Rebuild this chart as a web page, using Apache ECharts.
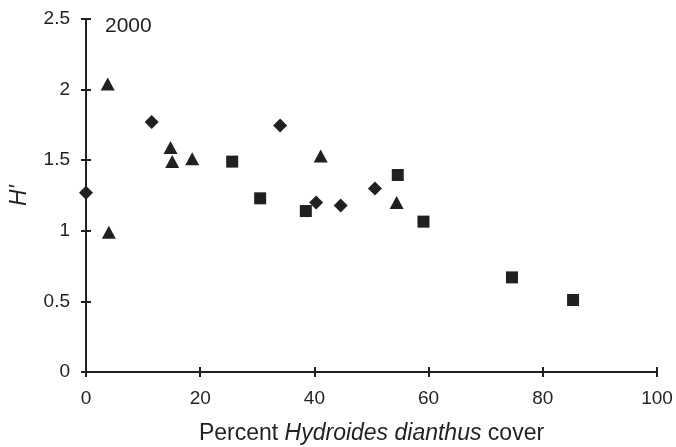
<!DOCTYPE html>
<html><head><meta charset="utf-8">
<script src="https://cdn.jsdelivr.net/npm/echarts@6/dist/echarts.min.js"></script>
<style>html,body{margin:0;padding:0;background:#fff}#c{width:676px;height:447px}</style>
</head><body><div id="c"></div>
<script>
const diamondX = [0, 11.5, 34.0, 40.3, 44.6, 50.6];
const diamondY = [1.27, 1.77, 1.745, 1.20, 1.18, 1.30];
const triangleX = [3.8, 4.0, 14.8, 15.1, 18.6, 41.1, 54.4];
const triangleY = [2.04, 0.99, 1.59, 1.49, 1.51, 1.53, 1.20];
const squareX = [25.6, 30.5, 38.5, 54.6, 59.1, 74.6, 85.3];
const squareY = [1.49, 1.23, 1.14, 1.395, 1.065, 0.67, 0.51];
const yearLabel = '2000';

const ink = '#231f20';
const font = 'Liberation Sans, Arial, Helvetica, sans-serif';
const zip = (xs, ys) => xs.map((x, i) => [x, ys[i]]);

const baseX = {
  type: 'value', min: 0, max: 100, interval: 20, position: 'bottom',
  splitLine: {show: false},
  axisLine: {show: true, onZero: false, lineStyle: {color: ink, width: 2}}
};
const baseY = {
  type: 'value', min: 0, max: 2.5, interval: 0.5, position: 'left',
  splitLine: {show: false},
  axisLine: {show: true, onZero: false, lineStyle: {color: ink, width: 2}}
};

const chart = echarts.init(document.getElementById('c'));
chart.setOption({
  animation: false,
  backgroundColor: '#fff',
  title: {
    text: yearLabel, left: 105, top: 16, padding: 0,
    textStyle: {fontFamily: font, fontSize: 21, fontWeight: 'normal', color: ink}
  },
  grid: {left: 86, right: 19, top: 19, bottom: 75, containLabel: false, outerBoundsMode: 'none'},
  xAxis: [
    Object.assign({}, baseX, {
      axisTick: {show: true, length: 5, lineStyle: {color: ink, width: 2}},
      axisLabel: {color: ink, fontFamily: font, fontSize: 19, margin: 17},
      name: 'Percent {i|Hydroides dianthus} cover',
      nameLocation: 'middle', nameGap: 50,
      nameTextStyle: {color: ink, fontFamily: font, fontSize: 23,
        rich: {i: {fontStyle: 'italic', color: ink, fontFamily: font, fontSize: 23}}}
    }),
    Object.assign({}, baseX, {
      axisTick: {show: true, inside: true, length: 5, lineStyle: {color: ink, width: 2}},
      axisLabel: {show: false}
    })
  ],
  yAxis: [
    Object.assign({}, baseY, {
      axisTick: {show: true, length: 5, lineStyle: {color: ink, width: 2}},
      axisLabel: {color: ink, fontFamily: font, fontSize: 19, margin: 16},
      name: "H'", nameLocation: 'middle', nameGap: 55, nameRotate: 90,
      nameTextStyle: {color: ink, fontFamily: font, fontSize: 23, fontStyle: 'italic'}
    }),
    Object.assign({}, baseY, {
      axisTick: {show: true, inside: true, length: 5, lineStyle: {color: ink, width: 2}},
      axisLabel: {show: false}
    })
  ],
  series: [
    {type: 'scatter', symbol: 'diamond', symbolSize: 14, data: zip(diamondX, diamondY),
     itemStyle: {color: ink, opacity: 1}},
    {type: 'scatter', symbol: 'triangle', symbolSize: [14, 13], data: zip(triangleX, triangleY),
     itemStyle: {color: ink, opacity: 1}},
    {type: 'scatter', symbol: 'rect', symbolSize: 12, data: zip(squareX, squareY),
     itemStyle: {color: ink, opacity: 1}}
  ]
});
</script></body></html>
